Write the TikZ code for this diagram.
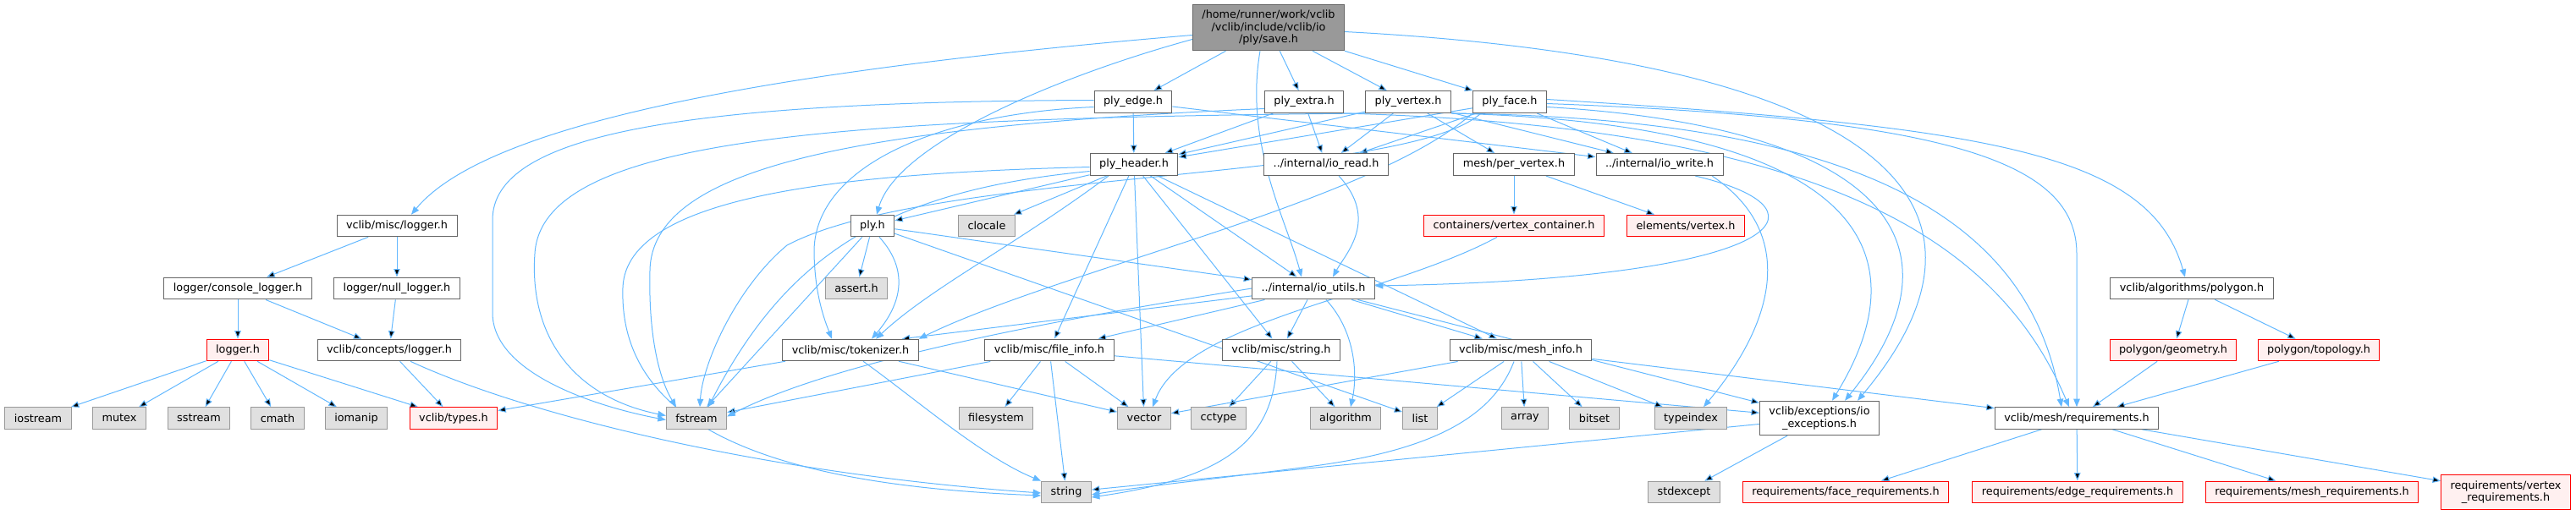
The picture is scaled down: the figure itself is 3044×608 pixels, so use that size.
\documentclass[tikz,border=0pt]{standalone}
\usepackage{fontspec}
\setmainfont{DejaVu Sans}
\usetikzlibrary{arrows.meta,backgrounds}
\definecolor{edgeblue}{HTML}{63B8FF}
\definecolor{boxgrey}{HTML}{666666}
\definecolor{sysgrey}{HTML}{999999}
\definecolor{sysfill}{HTML}{E0E0E0}
\definecolor{missfill}{HTML}{FFF0F0}
\definecolor{rootfill}{HTML}{999999}
\tikzset{
  file/.style={draw=boxgrey, fill=white, line width=1pt, inner xsep=11pt, inner ysep=6.6pt,
    minimum height=25.5pt, align=center, font=\fontsize{12.8}{14.5}\selectfont},
  sysfile/.style={file, draw=sysgrey, fill=sysfill},
  missing/.style={file, draw=red, fill=missfill},
  rootfile/.style={file, fill=rootfill},
  dep/.style={draw=edgeblue, line width=1pt, -{Triangle[length=9.5pt,width=7.5pt]}},
}
\begin{document}
\begin{tikzpicture}[x=1pt,y=-1pt]
\useasboundingbox (0,0) rectangle (3044,608);
% files
\node[rootfile] (save) at (1499,32.5) {/home/runner/work/vclib\\/vclib/include/vclib/io\\/ply/save.h};
\node[file] (ply_edge) at (1339,120.5) {ply\_edge.h};
\node[file] (ply_extra) at (1541,120.5) {ply\_extra.h};
\node[file] (ply_vertex) at (1664,120.5) {ply\_vertex.h};
\node[file] (ply_face) at (1784,120.5) {ply\_face.h};
\node[file] (ply_header) at (1340,194.5) {ply\_header.h};
\node[file] (io_read) at (1567,194.5) {../internal/io\_read.h};
\node[file] (per_vertex) at (1789,194.5) {mesh/per\_vertex.h};
\node[file] (io_write) at (1961,194.5) {../internal/io\_write.h};
\node[file] (logger) at (469,267) {vclib/misc/logger.h};
\node[file] (ply) at (1031,267) {ply.h};
\node[sysfile] (clocale) at (1166,267) {clocale};
\node[missing] (vert_cont) at (1789,267) {containers/vertex\_container.h};
\node[missing] (elem_vert) at (1992,267) {elements/vertex.h};
\node[file] (console) at (281,341) {logger/console\_logger.h};
\node[file] (null) at (469,341) {logger/null\_logger.h};
\node[sysfile] (assert) at (1012,341) {assert.h};
\node[file] (io_utils) at (1552,341) {../internal/io\_utils.h};
\node[file] (polygon) at (2590,341) {vclib/algorithms/polygon.h};
\node[missing] (logger_h) at (281,414) {logger.h};
\node[file] (concepts) at (460,414) {vclib/concepts/logger.h};
\node[file] (tokenizer) at (1005,414) {vclib/misc/tokenizer.h};
\node[file] (file_info) at (1240,414) {vclib/misc/file\_info.h};
\node[file] (string_h) at (1514,414) {vclib/misc/string.h};
\node[file] (mesh_info) at (1797,414) {vclib/misc/mesh\_info.h};
\node[missing] (geometry) at (2568,414) {polygon/geometry.h};
\node[missing] (topology) at (2740,414) {polygon/topology.h};
\node[sysfile] (iostream) at (45,494.5) {iostream};
\node[sysfile] (mutex) at (141,494.5) {mutex};
\node[sysfile] (sstream) at (235,494.5) {sstream};
\node[sysfile] (cmath) at (328,494.5) {cmath};
\node[sysfile] (iomanip) at (421,494.5) {iomanip};
\node[missing] (types) at (536,494.5) {vclib/types.h};
\node[sysfile] (fstream) at (823,494.5) {fstream};
\node[sysfile] (filesystem) at (1177,494.5) {filesystem};
\node[sysfile] (vector) at (1352,494.5) {vector};
\node[sysfile] (cctype) at (1440,494.5) {cctype};
\node[sysfile] (algorithm) at (1590,494.5) {algorithm};
\node[sysfile] (list) at (1678,494.5) {list};
\node[sysfile] (array) at (1802,494.5) {array};
\node[sysfile] (bitset) at (1884,494.5) {bitset};
\node[sysfile] (typeindex) at (1998,494.5) {typeindex};
\node[file] (io_exc) at (2150,494.5) {vclib/exceptions/io\\\_exceptions.h};
\node[file] (requirements) at (2454,494.5) {vclib/mesh/requirements.h};
\node[sysfile] (string) at (1260,582) {string};
\node[sysfile] (stdexcept) at (1990,582) {stdexcept};
\node[missing] (face_req) at (2181,582) {requirements/face\_requirements.h};
\node[missing] (edge_req) at (2455,582) {requirements/edge\_requirements.h};
\node[missing] (mesh_req) at (2732,582) {requirements/mesh\_requirements.h};
\node[missing] (vert_req) at (2961,582) {requirements/vertex\\\_requirements.h};
\begin{pgfonlayer}{background}
% includes, straight
\draw[dep] (save) edge (ply_edge) edge (ply_extra) edge (ply_vertex) edge (ply_face);
\draw[dep] (ply_edge) edge (ply_header) edge (io_write);
\draw[dep] (ply_extra) edge (ply_header) edge (io_read);
\draw[dep] (ply_vertex) edge (ply_header) edge (io_read) edge (per_vertex) edge (io_write);
\draw[dep] (ply_face) edge (ply_header) edge (io_read) edge (io_write);
\draw[dep] (ply_header) edge (ply) edge (clocale) edge (file_info) edge (vector)
  edge (string_h) edge (io_utils) edge (mesh_info);
\draw[dep] (per_vertex) edge (vert_cont) edge (elem_vert);
\draw[dep] (logger) edge (console) edge (null);
\draw[dep] (console) edge (logger_h) edge (concepts);
\draw[dep] (null) edge (concepts);
\draw[dep] (logger_h) edge (iostream) edge (mutex) edge (sstream) edge (cmath) edge (iomanip) edge (types);
\draw[dep] (concepts) edge (types);
\draw[dep] (ply) edge (assert) edge (fstream) edge (io_utils) edge (list);
\draw[dep] (io_utils) edge (file_info) edge (string_h) edge (mesh_info) edge (io_exc)
  edge ([xshift=-20pt]tokenizer.north east);
\draw[dep] (tokenizer) edge (types) edge (vector);
\draw[dep] (file_info) edge (filesystem) edge (string) edge (vector) edge (fstream) edge (io_exc);
\draw[dep] (string_h) edge (cctype) edge (algorithm);
\draw[dep] (mesh_info) edge (vector) edge (list) edge (array) edge (bitset) edge (typeindex) edge (requirements);
\draw[dep] (io_exc) edge (stdexcept) edge (string);
\draw[dep] (polygon) edge (geometry) edge (topology);
\draw[dep] (geometry) edge (requirements);
\draw[dep] (topology) edge (requirements);
\draw[dep] (requirements) edge (face_req) edge (edge_req) edge (mesh_req) edge (vert_req);
% includes, curved
\draw[dep] ([yshift=-9pt]save.west) .. controls (950,80) and (580,140) .. ([xshift=17pt]logger.north);
\draw[dep] ([yshift=-14pt]save.west) .. controls (1250,90) and (1060,170) .. ([xshift=5pt]ply.north);
\draw[dep] ([xshift=-10pt]save.south) .. controls (1470,170) and (1520,260) .. ([xshift=-14pt]io_utils.north);
\draw[dep] ([yshift=-5pt]save.east) .. controls (2200,70) and (2400,230) .. ([xshift=45pt]io_exc.north);
\draw[dep] ([yshift=3pt]ply_face.east) .. controls (2350,150) and (2540,180) .. ([xshift=-8pt]polygon.north);
\draw[dep] ([yshift=-2pt]ply_face.east) .. controls (2300,140) and (2454,190) .. (2454,300) -- (requirements.north);
\draw[dep] ([yshift=-6pt]ply_face.east) .. controls (2230,150) and (2330,290) .. ([xshift=30pt]io_exc.north);
\draw[dep] (ply_vertex.south east) .. controls (2150,145) and (2290,270) .. ([xshift=15pt]io_exc.north);
\draw[dep] (ply_vertex.south east) .. controls (2200,140) and (2400,260) .. ([xshift=-18pt]requirements.north);
\draw[dep] (ply_extra.south east) .. controls (2150,150) and (2360,280) .. ([xshift=-9pt]requirements.north);
\draw[dep] ([yshift=2pt]ply_edge.west) .. controls (800,120) and (582,160) .. (582,260) -- (582,370)
  .. controls (582,440) and (700,480) .. ([yshift=-2pt]fstream.west);
\draw[dep] (ply_vertex.south west) .. controls (1000,140) and (640,160) .. (632,300)
  .. controls (625,400) and (680,470) .. ([yshift=3pt]fstream.west);
\draw[dep] ([yshift=-8pt]ply_extra.west) .. controls (1000,150) and (770,200) .. (768,320)
  .. controls (766,400) and (780,450) .. ([xshift=-24pt]fstream.north);
\draw[dep] ([yshift=-3pt]ply_header.west) .. controls (1000,205) and (740,230) .. (736,340)
  .. controls (730,520) and (950,575) .. ([yshift=-4pt]string.west);
\draw[dep] ([yshift=-8pt]ply_header.west) .. controls (1050,225) and (930,300) .. ([xshift=14pt]fstream.north);
\draw[dep] ([xshift=10pt]ply_face.south west) .. controls (1660,215) and (1100,200) .. (930,290)
  .. controls (870,340) and (830,430) .. ([xshift=4pt]fstream.north);
\draw[dep] ([yshift=-6pt]ply_edge.west) .. controls (1100,135) and (960,200) .. (962,300)
  .. controls (963,350) and (975,380) .. ([xshift=-22pt]tokenizer.north);
\draw[dep] ([xshift=8pt]ply.south) .. controls (1075,320) and (1065,360) .. ([xshift=25pt]tokenizer.north);
\draw[dep] ([xshift=-30pt]ply_header.south) .. controls (1200,290) and (1100,340) .. ([xshift=30pt]tokenizer.north);
\draw[dep] (ply_face.south west) .. controls (1620,240) and (1250,320) .. (tokenizer.north east);
\draw[dep] ([xshift=15pt]io_read.south) .. controls (1630,260) and (1590,300) .. ([xshift=23pt]io_utils.north);
\draw[dep] ([xshift=42pt]io_write.south) .. controls (2180,250) and (2100,330) .. ([yshift=3pt]io_utils.east);
\draw[dep] ([xshift=62pt]io_write.south) .. controls (2130,280) and (2090,390) .. ([xshift=15pt]typeindex.north);
\draw[dep] ([xshift=-20pt]vert_cont.south) .. controls (1640,350) and (1400,380) .. ([xshift=10pt]vector.north);
\draw[dep] ([xshift=15pt]io_utils.south) .. controls (1600,390) and (1605,440) .. ([xshift=6pt]algorithm.north);
\draw[dep] (io_utils.west) .. controls (1300,370) and (1000,420) .. ([yshift=2pt]fstream.east);
\draw[dep] ([xshift=-8pt]mesh_info.south) .. controls (1765,490) and (1700,530) .. (1560,550)
  .. controls (1450,565) and (1350,575) .. ([yshift=-3pt]string.east);
\draw[dep] ([xshift=-5pt]string_h.south) .. controls (1505,520) and (1450,565) .. ([yshift=-6pt]string.east);
\draw[dep] ([xshift=25pt]concepts.south) .. controls (620,490) and (900,560) .. ([yshift=-1pt]string.west);
\draw[dep] ([xshift=15pt]tokenizer.south) .. controls (1080,470) and (1160,540) .. (string.north west);
\end{pgfonlayer}
\end{tikzpicture}
\end{document}
